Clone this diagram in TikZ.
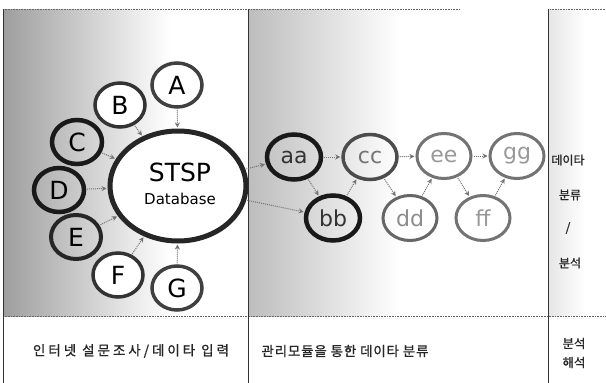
\documentclass[tikz,border=0pt]{standalone}
\usepackage{fontspec}
\setmainfont{DejaVu Sans}
\newfontfamily\kr[FakeBold=1]{Noto Sans CJK KR}
\usetikzlibrary{shapes.geometric,arrows.meta}
\tikzset{
  ring/.style={ellipse, draw=#1, inner sep=0pt, line width=3.5pt,
    font=\fontsize{25}{25}\selectfont, minimum width=50pt, minimum height=44pt},
  sring/.style={ellipse, draw=#1, inner sep=0pt, line width=3.5pt,
    font=\fontsize{22}{22}\selectfont, minimum width=54pt, minimum height=45pt},
  conn/.style={draw=black!55, densely dotted, line width=1pt, -{Stealth[length=5pt,width=5pt]}, shorten >=1pt, shorten <=1pt},
  sep/.style={draw=black!80, line width=0.8pt},
  hsep/.style={draw=black!60, line width=0.6pt, densely dotted},
  krtext/.style={font=\kr\fontsize{12}{14}\selectfont, text=black!85, align=center}
}
\begin{document}
\begin{tikzpicture}[x=1pt,y=-1pt]
\useasboundingbox (0,0) rectangle (606,383);
\fill[white] (0,0) rectangle (606,383);
% background shadings
\shade[left color=black!38, right color=white] (3,9) rectangle (170,316);
\shade[left color=black!26, right color=white] (248,9) rectangle (400,316);
\shade[left color=black!10, right color=white] (548,9) rectangle (585,316);
% frame lines
\draw[hsep] (3,9) -- (460,9);
\draw[hsep] (550,9) -- (606,9);
\draw[hsep] (3,316) -- (606,316);
\draw[sep] (3,9) -- (3,383);
\draw[sep] (248,9) -- (248,383);
\draw[sep] (548,9) -- (548,383);

% panel 1
\node[ellipse, draw=black!85, fill=white, line width=5pt, inner sep=0pt, minimum width=136pt, minimum height=110pt] (db) at (178,186) {};
\node[font=\fontsize{25}{27}\selectfont, inner sep=0pt] (stsp) at (180,172) {STSP};
\node[font=\fontsize{15}{17}\selectfont, inner sep=0pt] (dbl) at (180,199) {Database};
\node[ring=black!75, fill=white] (A) at (177,85) {A};
\node[ring=black!80, fill=white] (B) at (120,105) {B};
\node[ring=black!90, line width=4.5pt] (C) at (77,142) {C};
\node[ring=black!90, line width=4.5pt] (D) at (59,190) {D};
\node[ring=black!85, line width=4pt] (E) at (76,237) {E};
\node[ring=black!80, fill=white] (F) at (118,275) {F};
\node[ring=black!75, fill=white] (G) at (177,288) {G};
\foreach \n in {A,B,C,D,E,F,G} \draw[conn] (\n) -- (db);

% panel 2
\node[sring=black!90, line width=4.5pt, text=black!80] (aa) at (294,157) {aa};
\node[sring=black!90, line width=4.5pt, text=black!80] (bb) at (333,218) {bb};
\node[sring=black!70, line width=3.5pt, text=black!55] (cc) at (370,157) {cc};
\node[sring=black!60, line width=3pt, text=black!45] (dd) at (410,218) {dd};
\node[sring=black!55, line width=3pt, text=black!40] (ee) at (444,156) {ee};
\node[sring=black!55, line width=3pt, text=black!40] (ff) at (483,218) {ff};
\node[sring=black!55, line width=3pt, text=black!40] (gg) at (517,156) {gg};
\draw[conn] (db) -- (aa);
\draw[conn] (db) -- (bb);
\draw[conn] (aa) -- (cc);
\draw[conn] (cc) -- (ee);
\draw[conn] (ee) -- (gg);
\draw[conn] (aa) -- (bb);
\draw[conn] (bb) -- (cc);
\draw[conn] (cc) -- (dd);
\draw[conn] (dd) -- (ee);
\draw[conn] (ee) -- (ff);
\draw[conn] (ff) -- (gg);

% panel 3
\node[krtext] (t1) at (568,160) {데이타};
\node[krtext] (t2) at (570,195) {분류};
\node[krtext] (t3) at (568,228) {/};
\node[krtext] (t4) at (570,263) {분석};

% bottom labels
\node[krtext, font=\kr\fontsize{13.5}{15}\selectfont\addfontfeature{LetterSpace=22}] (b1) at (131,351) {인터넷 설문조사/데이타 입력};
\node[krtext, font=\kr\fontsize{13.5}{15}\selectfont\addfontfeature{LetterSpace=6}] (b2) at (345,351) {관리모듈을 통한 데이타 분류};
\node[krtext, font=\kr\fontsize{12.5}{19}\selectfont] (b3) at (574,353) {분석\\해석};
\end{tikzpicture}
\end{document}
